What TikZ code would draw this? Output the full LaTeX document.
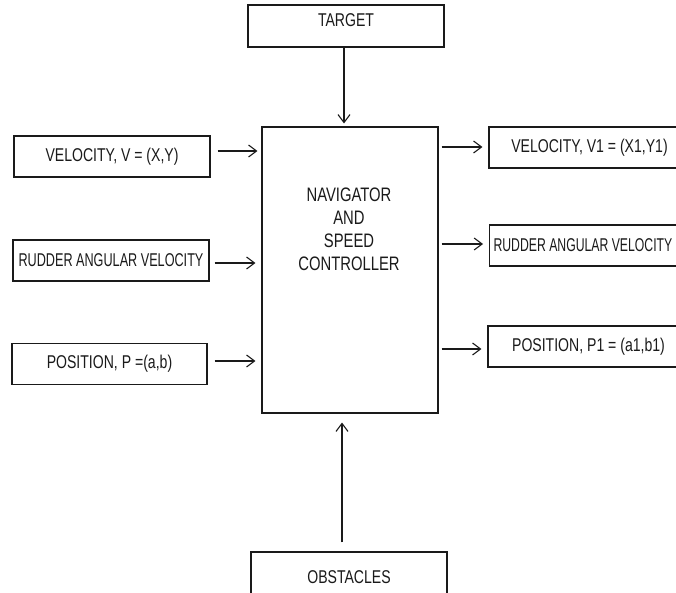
\documentclass[tikz,border=0pt]{standalone}
\usepackage{fontspec}
\setmainfont{Liberation Sans}[FakeStretch=0.76]
\usetikzlibrary{arrows.meta}
\definecolor{ink}{HTML}{1A1A1A}
\tikzset{
  box/.style={draw=ink, line width=1.1pt, rectangle, inner sep=0pt, text=ink,
              font=\fontsize{18.5}{21}\selectfont},
  arr/.style={draw=ink, line width=1.1pt, -{Straight Barb[length=8pt,width=12pt,line width=1.1pt]}},
  maintext/.style={align=center, text=ink, font=\fontsize{19.5}{23}\selectfont, inner sep=0pt}
}
\begin{document}
\begin{tikzpicture}[x=1pt,y=-1pt]
\clip (0,0) rectangle (676,592);
\fill[white] (0,0) rectangle (676,592);
% main block
\node[box, minimum width=176pt, minimum height=286pt] (main) at (350,270) {};
\node[maintext] (maintxt) at (349,229) {NAVIGATOR\\AND\\SPEED\\CONTROLLER};
% target
\node[box, minimum width=196pt, minimum height=42pt] (target) at (346,26) {};
\node[text=ink, font=\fontsize{18.5}{21}\selectfont, inner sep=0pt] (targettxt) at (346,20) {TARGET};
% obstacles
\node[box, minimum width=196pt, minimum height=50pt] (obs) at (349,577) {OBSTACLES};
% left inputs
\node[box, minimum width=196pt, minimum height=41pt] (vin) at (112,156.5) {VELOCITY, V = (X,Y)};
\node[box, minimum width=196pt, minimum height=41pt] (rin) at (111,260.5) {\scalebox{0.9}[1]{RUDDER ANGULAR VELOCITY}};
\node[box, minimum width=195pt, minimum height=41pt] (pin) at (109.5,364) {POSITION, P =(a,b)};
% right outputs
\node[box, minimum width=201pt, minimum height=41pt] (vout) at (589.5,147.5) {VELOCITY, V1 = (X1,Y1)};
\node[box, minimum height=41pt, anchor=west, inner xsep=4pt] (rout) at (489,245.5) {\scalebox{0.87}[1]{RUDDER ANGULAR VELOCITY}\hspace{14pt}};
\node[box, minimum width=201pt, minimum height=41pt] (pout) at (588.5,346.5) {POSITION, P1 = (a1,b1)};
% connectors
\draw[arr, shorten >=3pt] ([xshift=-2pt]target.south) -- ([xshift=-2pt]target.south |- main.north);
\draw[arr, shorten <=9pt, shorten >=9pt] ([xshift=-7pt]obs.north) -- ([xshift=-7pt]obs.north |- main.south);
\draw[arr, shorten <=7pt, shorten >=4pt] ([yshift=5.5pt]vin.east) -- ([yshift=5.5pt]vin.east -| main.west);
\draw[arr, shorten <=5pt, shorten >=6pt] ([yshift=-2.5pt]rin.east) -- ([yshift=-2.5pt]rin.east -| main.west);
\draw[arr, shorten <=7pt, shorten >=6pt] ([yshift=3pt]pin.east) -- ([yshift=3pt]pin.east -| main.west);
\draw[arr, shorten <=3pt, shorten >=6pt] ([yshift=0.5pt]main.east |- vout.west) -- ([yshift=0.5pt]vout.west);
\draw[arr, shorten <=3pt, shorten >=6pt] ([yshift=1.5pt]main.east |- rout.west) -- ([yshift=1.5pt]rout.west);
\draw[arr, shorten <=3pt, shorten >=6pt] ([yshift=-2.5pt]main.east |- pout.west) -- ([yshift=-2.5pt]pout.west);
\end{tikzpicture}
\end{document}
